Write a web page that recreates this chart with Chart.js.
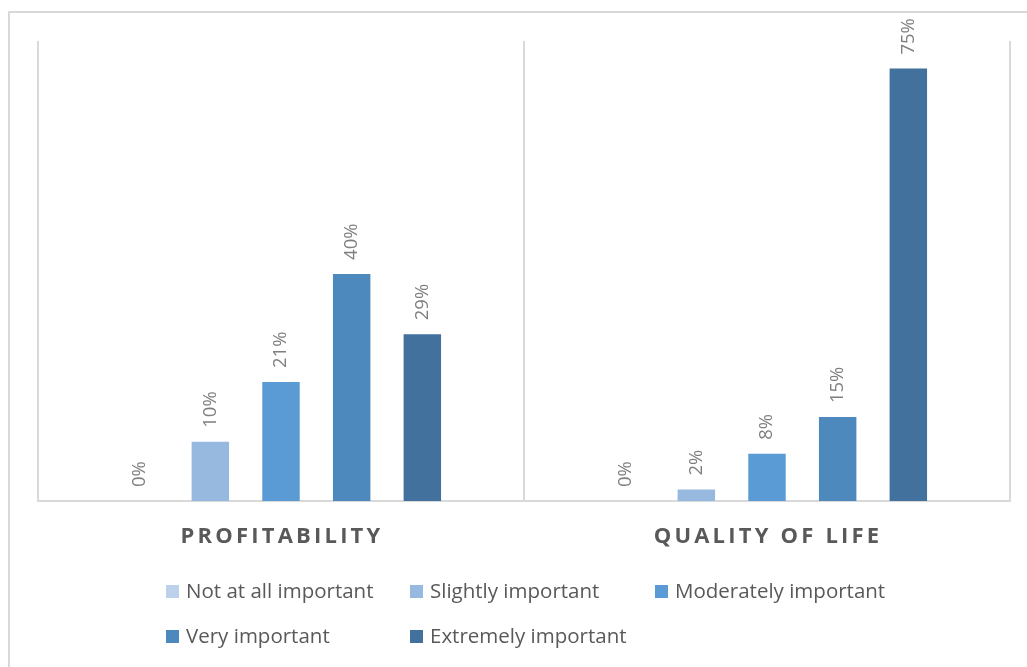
<!DOCTYPE html>
<html>
<head>
<meta charset="utf-8">
<script src="https://cdn.jsdelivr.net/npm/chart.js@4/dist/chart.umd.min.js"></script>
<style>
  body { margin: 0; background: #fff; overflow: hidden; }
  #wrap { position: relative; width: 1027px; height: 667px; }
  #frame { position: absolute; left: 8px; top: 11px; width: 1040px; height: 680px; border: 2px solid #d9d9d9; box-sizing: border-box; }
  #chart { position: absolute; left: 0; top: 0; }
  .leg { position: absolute; font-family: "Open Sans", sans-serif; font-size: 20.5px; color: #595959; white-space: nowrap; line-height: 20px; }
  .leg span.box { display: inline-block; width: 13px; height: 13px; margin-right: 7px; vertical-align: 0px; }
</style>
</head>
<body>
<div id="wrap">
  <div id="frame"></div>
  <canvas id="chart" width="1027" height="667"></canvas>
  <div id="legend"></div>
</div>
<script>
let categories = ["PROFITABILITY", "QUALITY OF LIFE"];
let seriesNames = ["Not at all important", "Slightly important", "Moderately important", "Very important", "Extremely important"];
let seriesColors = ["#bdd1ea", "#97b9e0", "#5b9bd5", "#4e89bd", "#41719c"];
// one array per answer, [profitability, quality of life]
let notAtAll = [0, 0];
let slightly = [10.3, 2.0];
let moderately = [20.7, 8.2];
let very = [39.5, 14.6];
let extremely = [29.0, 75.2];
let seriesValues = [notAtAll, slightly, moderately, very, extremely];

let barLabels = {
    id: "barLabels",
    afterDatasetsDraw(chart) {
        let ctx = chart.ctx;
        ctx.save();
        ctx.font = "18.5px 'Open Sans'";
        ctx.fillStyle = "#7f7f7f";
        ctx.textAlign = "left";
        ctx.textBaseline = "middle";
        chart.data.datasets.forEach((ds, i) => {
            chart.getDatasetMeta(i).data.forEach((bar, j) => {
                ctx.save();
                ctx.translate(bar.x, bar.y - 14);
                ctx.rotate(-Math.PI / 2);
                ctx.fillText(Math.round(ds.data[j]) + "%", 0, 0);
                ctx.restore();
            });
        });
        ctx.restore();
    }
};

let catLabels = {
    id: "catLabels",
    afterDraw(chart) {
        let ctx = chart.ctx;
        let xs = chart.scales.x;
        ctx.save();
        ctx.font = "bold 22px 'Open Sans'";
        ctx.fillStyle = "#595959";
        ctx.letterSpacing = "3.2px";
        ctx.textAlign = "center";
        ctx.textBaseline = "middle";
        categories.forEach((c, i) => {
            ctx.fillText(c, xs.getPixelForValue(i) + 1, 537);
        });
        ctx.restore();
    }
};

new Chart(document.getElementById("chart"), {
    type: "bar",
    data: {
        labels: categories,
        datasets: seriesNames.map((name, i) => ({
            label: name,
            data: seriesValues[i],
            backgroundColor: seriesColors[i],
            borderWidth: 0,
            categoryPercentage: 0.727,
            barPercentage: 0.53
        }))
    },
    options: {
        responsive: false,
        animation: false,
        layout: { padding: { left: 38, right: 17, top: 41, bottom: 166 } },
        plugins: { legend: { display: false }, tooltip: { enabled: false } },
        scales: {
            x: {
                grid: { color: "#d9d9d9", lineWidth: 2, drawTicks: false },
                border: { color: "#d9d9d9", width: 2 },
                ticks: { display: false }
            },
            y: { display: false, min: 0, max: 80 }
        }
    },
    plugins: [barLabels, catLabels]
});

// legend laid out in Excel-style columns
let legendPos = [[166, 580], [410, 580], [655, 580], [166, 625], [410, 625]];
let legend = document.getElementById("legend");
seriesNames.forEach((name, i) => {
    let d = document.createElement("div");
    d.className = "leg";
    d.style.left = legendPos[i][0] + "px";
    d.style.top = legendPos[i][1] + "px";
    d.innerHTML = '<span class="box" style="background:' + seriesColors[i] + '"></span>' + name;
    legend.appendChild(d);
});
</script>
</body>
</html>
